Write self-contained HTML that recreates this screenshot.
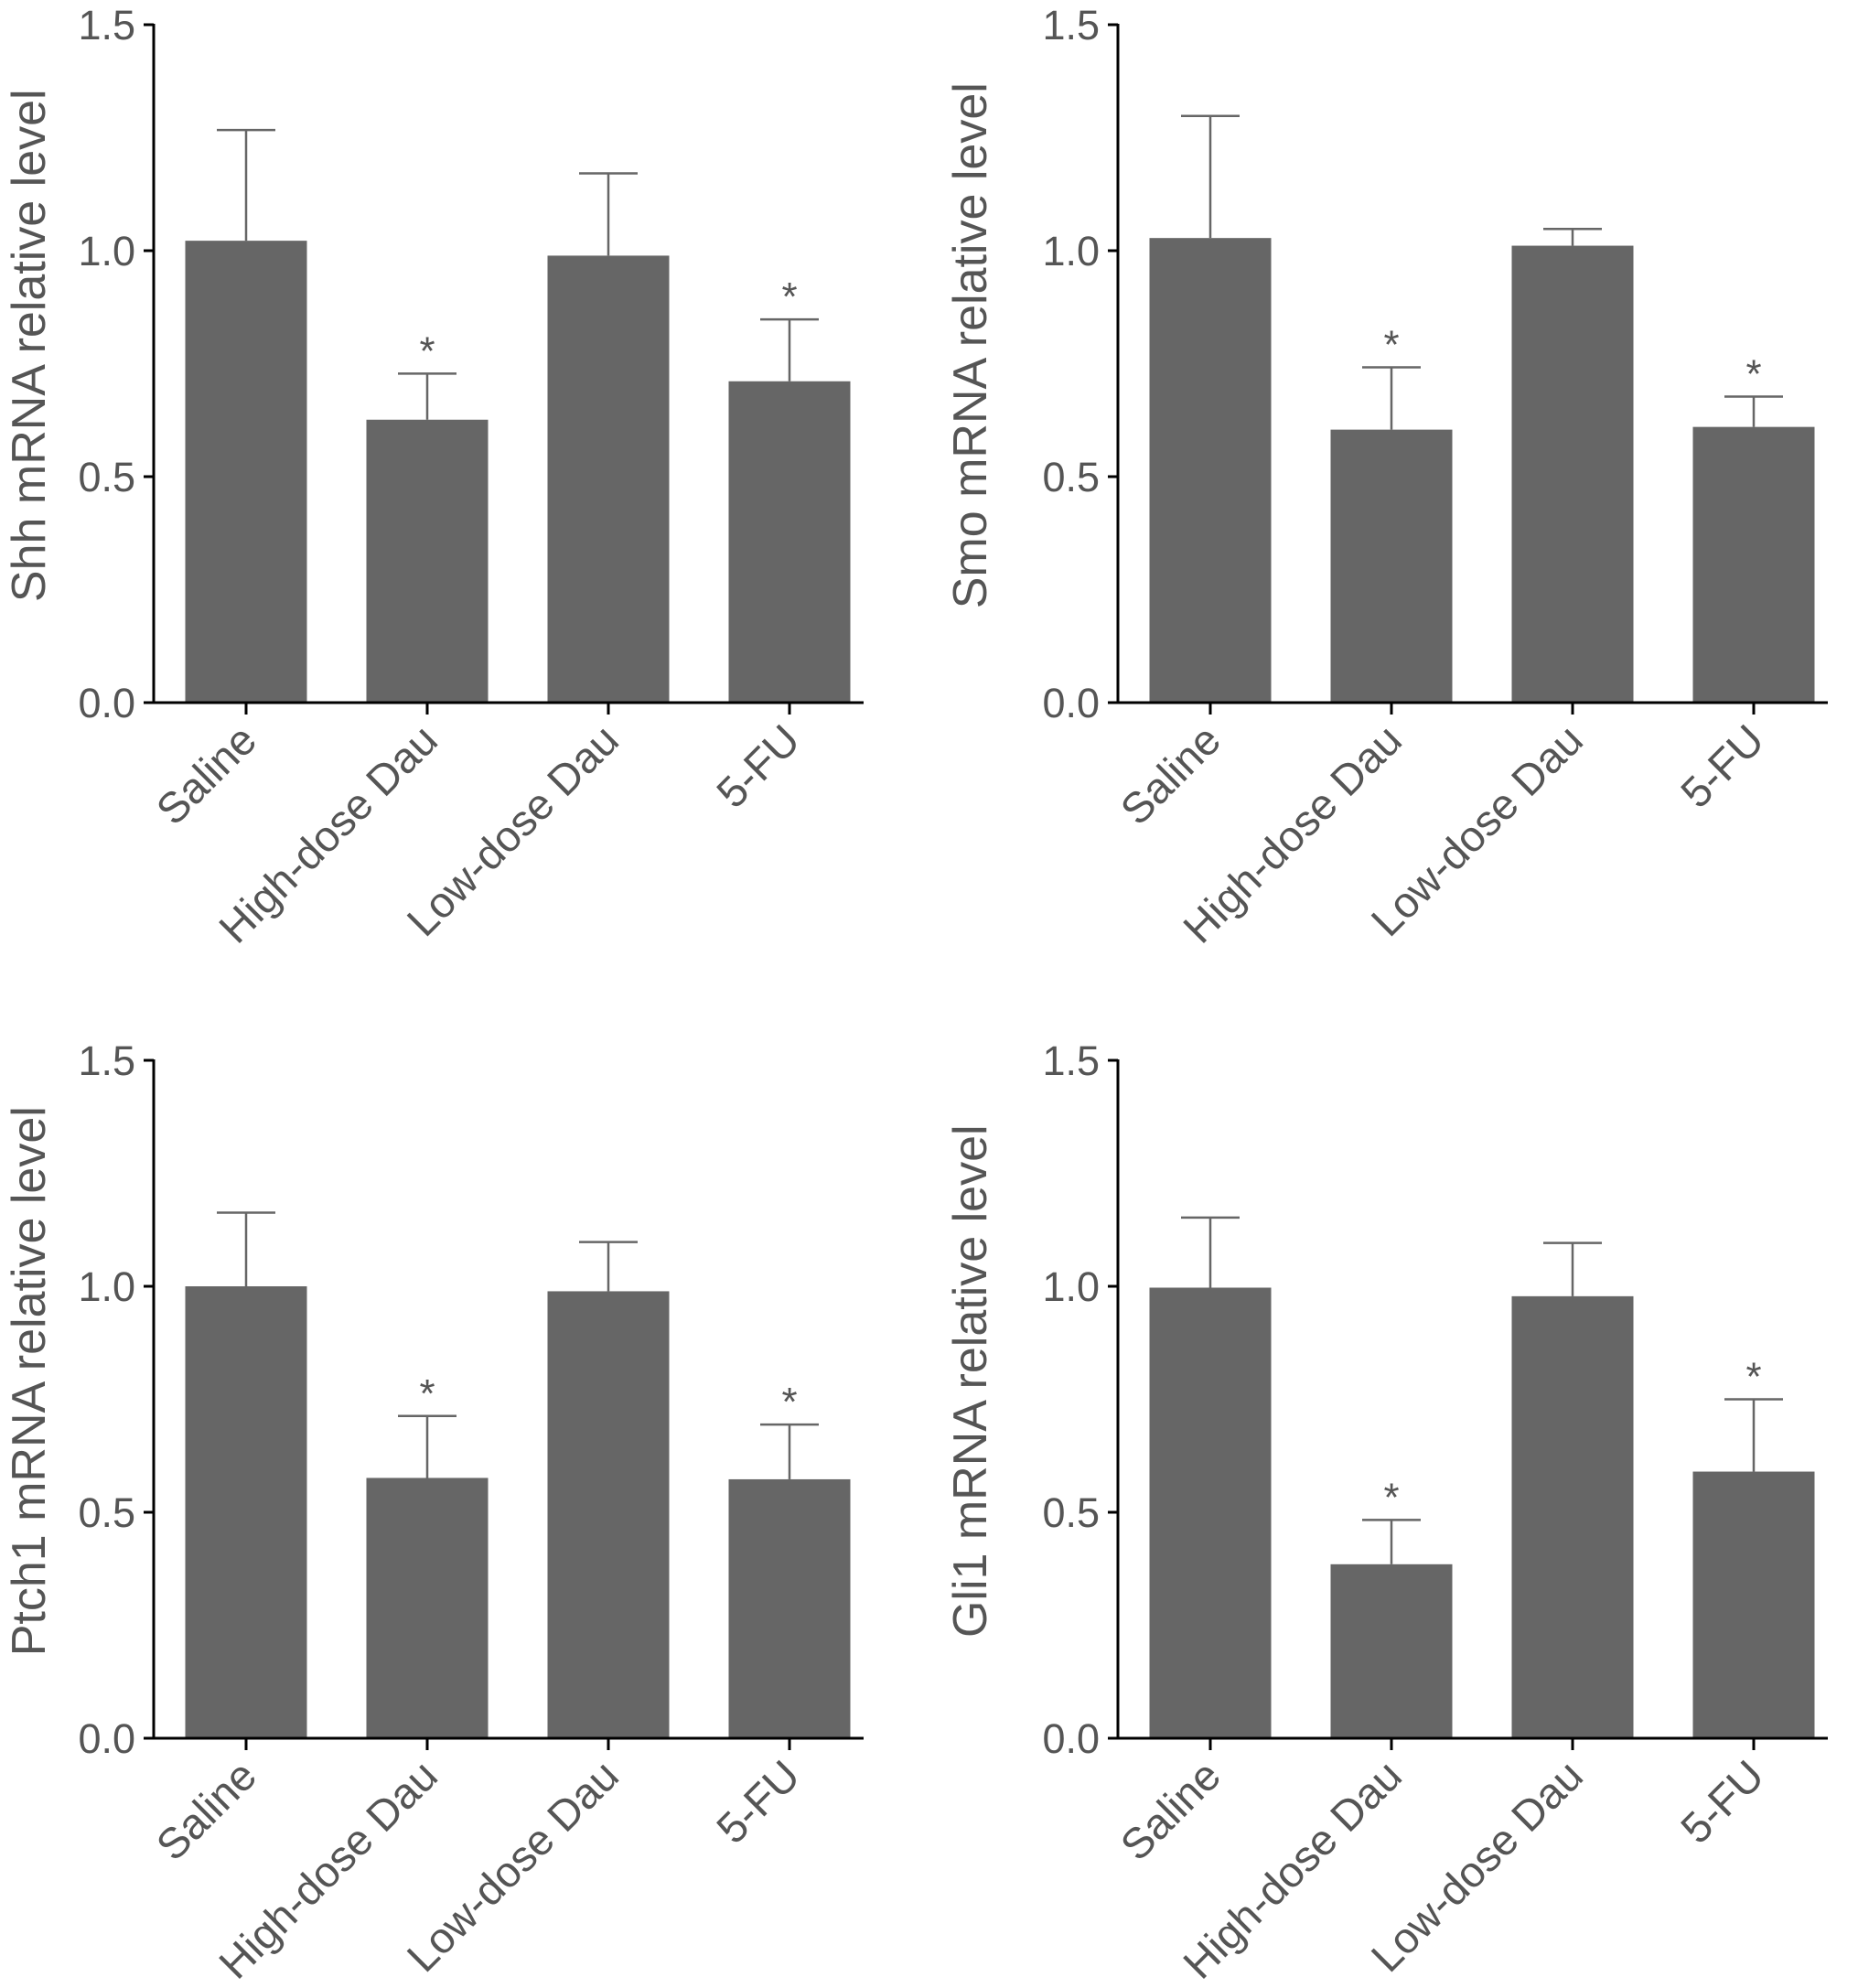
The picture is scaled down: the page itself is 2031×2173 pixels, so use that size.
<!DOCTYPE html>
<html><head><meta charset="utf-8">
<style>
html,body{margin:0;padding:0;background:#fff;}
svg{display:block;font-family:"Liberation Sans",Arial,sans-serif;}
</style></head>
<body>
<svg id="fig" width="2031" height="2173" viewBox="0 0 2031 2173" xmlns="http://www.w3.org/2000/svg"></svg>
<script>
const categories = ["Saline","High-dose Dau","Low-dose Dau","5-FU"];
const yTicks = [0.0,0.5,1.0,1.5];
const yTickLabels = ["0.0","0.5","1.0","1.5"];
const titles = ["Shh mRNA relative level","Smo mRNA relative level","Ptch1 mRNA relative level","Gli1 mRNA relative level"];
const shhMeans = [1.022,0.626,0.989,0.711];
const shhErr = [1.267,0.728,1.171,0.848];
const smoMeans = [1.028,0.604,1.011,0.610];
const smoErr = [1.298,0.742,1.048,0.677];
const ptchMeans = [1.000,0.576,0.989,0.573];
const ptchErr = [1.163,0.713,1.098,0.694];
const gliMeans = [0.997,0.385,0.978,0.590];
const gliErr = [1.152,0.483,1.096,0.750];
const sig = [false,true,false,true];

const NS="http://www.w3.org/2000/svg";
const svg=document.getElementById('fig');
function mk(tag,attrs,parent){const e=document.createElementNS(NS,tag);for(const k in attrs)e.setAttribute(k,attrs[k]);(parent||svg).appendChild(e);return e;}

const panels=[
 {ax:168,y0:768,means:shhMeans,err:shhErr,title:titles[0],tx:31,name:'shh'},
 {ax:1222,y0:768,means:smoMeans,err:smoErr,title:titles[1],tx:1060,name:'smo'},
 {ax:168,y0:1900,means:ptchMeans,err:ptchErr,title:titles[2],tx:31,name:'ptch1'},
 {ax:1222,y0:1900,means:gliMeans,err:gliErr,title:titles[3],tx:1060,name:'gli1'}
];
const unit=494;
panels.forEach(p=>{
  const g=mk('g',{});
  
  
  const y=v=>p.y0-v*unit;
  const x=i=>p.ax+101+i*198;
  const bw=133;
  p.means.forEach((m,i)=>{
    const ey=y(p.err[i]);
    const eb=mk('line',{x1:x(i),x2:x(i),y1:y(m),y2:ey,stroke:'#666','stroke-width':2.5},g);
    
    
    const cap=mk('line',{x1:x(i)-32,x2:x(i)+32,y1:ey,y2:ey,stroke:'#666','stroke-width':2.5},g);
    
    
    const r=mk('rect',{x:x(i)-bw/2,y:y(m),width:bw,height:p.y0-y(m),fill:'#666'},g);
    
    
    if(sig[i]){
      const s=mk('text',{x:x(i),y:ey-10,'text-anchor':'middle','font-size':44,fill:'#555'},g);
      s.textContent='*';
      
      
    }
    const t=mk('line',{x1:x(i),x2:x(i),y1:p.y0,y2:p.y0+13,stroke:'#000','stroke-width':3},g);
    
    
    const lb=mk('text',{x:0,y:0,'text-anchor':'end','font-size':47,fill:'#555',transform:`translate(${x(i)+14},${p.y0+44}) rotate(-45)`},g);
    lb.textContent=categories[i];
    
    
  });
  const ya=mk('line',{x1:p.ax,x2:p.ax,y1:y(1.5)-1,y2:p.y0+1.5,stroke:'#000','stroke-width':3},g);
  
  
  const xa=mk('line',{x1:p.ax-11,x2:p.ax+776,y1:p.y0,y2:p.y0,stroke:'#000','stroke-width':3},g);
  
  
  yTicks.forEach((v,j)=>{
    const t=mk('line',{x1:p.ax-11,x2:p.ax,y1:y(v),y2:y(v),stroke:'#000','stroke-width':3},g);
    
    
    const tl=mk('text',{x:p.ax-20,y:y(v)+16,'text-anchor':'end','font-size':45,fill:'#555'},g);
    tl.textContent=yTickLabels[j];
    
    
  });
  const yt=mk('text',{x:0,y:0,'text-anchor':'middle','font-size':52,fill:'#555',transform:`translate(${p.tx+18},${y(0.79)}) rotate(-90)`},g);
  yt.textContent=p.title;
  
  
});
</script>
</body></html>
